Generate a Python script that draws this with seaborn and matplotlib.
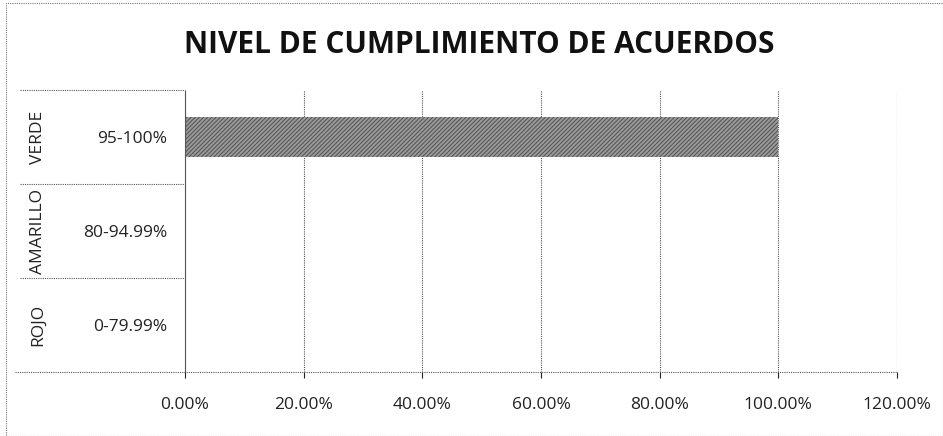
import matplotlib
matplotlib.use("Agg")
import matplotlib.pyplot as plt
import matplotlib.transforms as mtransforms
from matplotlib.ticker import FuncFormatter
import seaborn as sns
import pandas as pd

titulo = "NIVEL DE CUMPLIMIENTO DE ACUERDOS"
grupos = ["VERDE", "AMARILLO", "ROJO"]
rangos = ["95-100%", "80-94.99%", "0-79.99%"]
valores = [1.0, 0.0, 0.0]
xticks = [0.0, 0.2, 0.4, 0.6, 0.8, 1.0, 1.2]

df = pd.DataFrame({"rango": rangos, "valor": valores, "grupo": grupos})

sns.set_theme(style="white")
plt.rcParams["font.family"] = ["Open Sans", "DejaVu Sans"]
plt.rcParams["hatch.linewidth"] = 0.7

W, H = 943, 436
fig = plt.figure(figsize=(W / 100, H / 100), dpi=100)
x0, x1, y0, y1 = 185, 897, 90, 372
ax = fig.add_axes([x0 / W, 1 - y1 / H, (x1 - x0) / W, (y1 - y0) / H])

sns.barplot(data=df, x="valor", y="rango", orient="h", ax=ax, width=0.42,
            color="#8a8a8a", linewidth=0.0)
for p in ax.patches:
    p.set_hatch("////////")
    p.set_edgecolor("#505050")
    p.set_facecolor("#9a9a9a")

ax.set_xlim(0, 1.2)
ax.set_ylim(2.5, -0.5)
ax.set_xticks(xticks)
ax.xaxis.set_major_formatter(FuncFormatter(lambda v, _: f"{v*100:.2f}%"))
ax.set_xlabel("")
ax.set_ylabel("")
ax.tick_params(axis="x", labelsize=12.5, colors="#222222", pad=14, length=4,
               direction="out", bottom=True, width=0.8)
ax.tick_params(axis="y", labelsize=12.5, colors="#222222", length=0, pad=13)

ax.grid(axis="x", color="#555555", linestyle=(0, (1, 1)), linewidth=0.8)
ax.grid(axis="y", visible=False)
for s in ["top", "right"]:
    ax.spines[s].set_visible(False)
ax.spines["left"].set_color("#555555")
ax.spines["left"].set_linestyle((0, (1, 1)))
ax.spines["left"].set_linewidth(0.8)
ax.spines["bottom"].set_visible(False)

trans = mtransforms.blended_transform_factory(ax.transAxes, ax.transData)
xl = (20 - x0) / (x1 - x0)
for b in [-0.5, 0.5, 1.5]:
    ax.plot([xl, 0], [b, b], transform=trans, clip_on=False, color="#555555",
            linestyle=(0, (1, 1)), linewidth=0.8)
ax.plot([(15 - x0) / (x1 - x0), 1], [2.5, 2.5], transform=trans, clip_on=False,
        color="#555555", linestyle=(0, (1, 1)), linewidth=0.8)
xg = (38 - x0) / (x1 - x0)
for i, g in enumerate(grupos):
    ax.text(xg, i, g, transform=trans, rotation=90, ha="center", va="center",
            fontsize=12.5, color="#222222")

fig.text(479 / W, 1 - 45 / H, titulo, ha="center", va="center", fontsize=21.5,
         fontweight="bold", color="#111111")

border = plt.Rectangle((6 / W, 0.0), 1 - 6 / W, 1 - 3 / H, transform=fig.transFigure,
                       fill=False, edgecolor="#777777", linestyle=(0, (1, 1)),
                       linewidth=0.8)
fig.patches.append(border)

fig.savefig("out.png", dpi=100, facecolor="white")
